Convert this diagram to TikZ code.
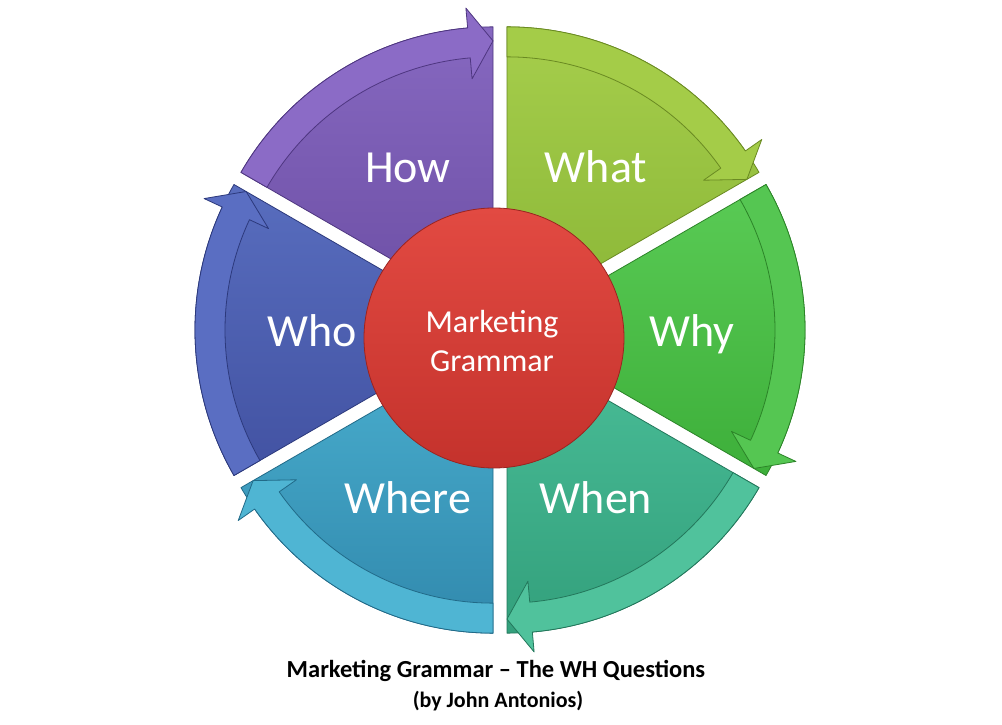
\documentclass[tikz,border=0pt]{standalone}
\usepackage{fontspec}
\setmainfont{Carlito}
\usetikzlibrary{calc}
\definecolor{howT}{HTML}{8668C0}\definecolor{howB}{HTML}{6C4EA4}\definecolor{howA}{HTML}{8B6BC6}\definecolor{howE}{HTML}{4E3680}
\definecolor{whatT}{HTML}{A6CE4C}\definecolor{whatB}{HTML}{8AB636}\definecolor{whatA}{HTML}{A4CC48}\definecolor{whatE}{HTML}{6A8A22}
\definecolor{whyT}{HTML}{5ACB55}\definecolor{whyB}{HTML}{3DAF3A}\definecolor{whyA}{HTML}{55C652}\definecolor{whyE}{HTML}{2C8428}
\definecolor{whenT}{HTML}{4ABE98}\definecolor{whenB}{HTML}{33A07C}\definecolor{whenA}{HTML}{50C29C}\definecolor{whenE}{HTML}{23775B}
\definecolor{whereT}{HTML}{4AAFCF}\definecolor{whereB}{HTML}{3189AD}\definecolor{whereA}{HTML}{4FB5D3}\definecolor{whereE}{HTML}{216A88}
\definecolor{whoT}{HTML}{586DBE}\definecolor{whoB}{HTML}{4252A2}\definecolor{whoA}{HTML}{5A6EC2}\definecolor{whoE}{HTML}{2C397C}
\definecolor{hubT}{HTML}{E24A42}\definecolor{hubB}{HTML}{C4322C}\definecolor{hubE}{HTML}{9A2420}
\tikzset{
  wedgeedge/.style={line width=0.8pt, line join=round},
  seglabel/.style={anchor=base, text=white, font=\fontsize{46}{50}\selectfont, inner sep=0pt},
  hublabel/.style={anchor=base, text=white, font=\fontsize{32}{38}\selectfont, inner sep=0pt},
  titletext/.style={anchor=base, text=black, inner sep=0pt}
}
\begin{document}
\begin{tikzpicture}[x=1pt,y=1pt]
\useasboundingbox (0,0) rectangle (1002,724);
\fill[white] (0,0) rectangle (1002,724);
\def\R{291}\def\Ri{261}\def\Ro{311}\def\Rn{240}\def\Rt{277}
\coordinate (C) at (500,394);
\foreach \phi/\nm in {120/how, 60/what, 0/why, -60/when, -120/where, 180/who}{
  \coordinate (O\nm) at ($(C)+(\phi:14)$);
  \path[wedgeedge, top color=\nm T, bottom color=\nm B, draw=\nm E]
    (O\nm) -- ($(O\nm)+(\phi-30:\R)$)
    arc[start angle=\phi-30, end angle=\phi+30, radius=\R] -- cycle;
  \path[wedgeedge, fill=\nm A, draw=\nm E]
    ($(O\nm)+(\phi+30:\R)$)
    arc[start angle=\phi+30, end angle=\phi-25, radius=\R]
    -- ($(O\nm)+(\phi-25:\Ro)$)
    -- ($(O\nm)+(\phi-30:\Rt)$)
    -- ($(O\nm)+(\phi-25:\Rn)$)
    -- ($(O\nm)+(\phi-25:\Ri)$)
    arc[start angle=\phi-25, end angle=\phi+30, radius=\Ri] -- cycle;
}
\node[circle, minimum size=260pt, inner sep=0pt, top color=hubT, bottom color=hubB, draw=hubE, line width=0.8pt] (hub) at (494,386) {};
\node[hublabel] (mk) at (492,391) {Marketing};
\node[hublabel] (gr) at (492,352) {Grammar};
\node[seglabel] (lhow) at (408,541) {How};
\node[seglabel] (lwhat) at (596,541) {What};
\node[seglabel] (lwhy) at (692,377) {Why};
\node[seglabel] (lwho) at (312,377) {Who};
\node[seglabel] (lwhere) at (408,211) {Where};
\node[seglabel] (lwhen) at (596,211) {When};
\node[titletext, font=\fontsize{24.5}{28}\bfseries] (title) at (496,47) {Marketing Grammar – The WH Questions};
\node[titletext, font=\fontsize{22}{26}\bfseries] (sub) at (498,17) {(by John Antonios)};
\end{tikzpicture}
\end{document}
